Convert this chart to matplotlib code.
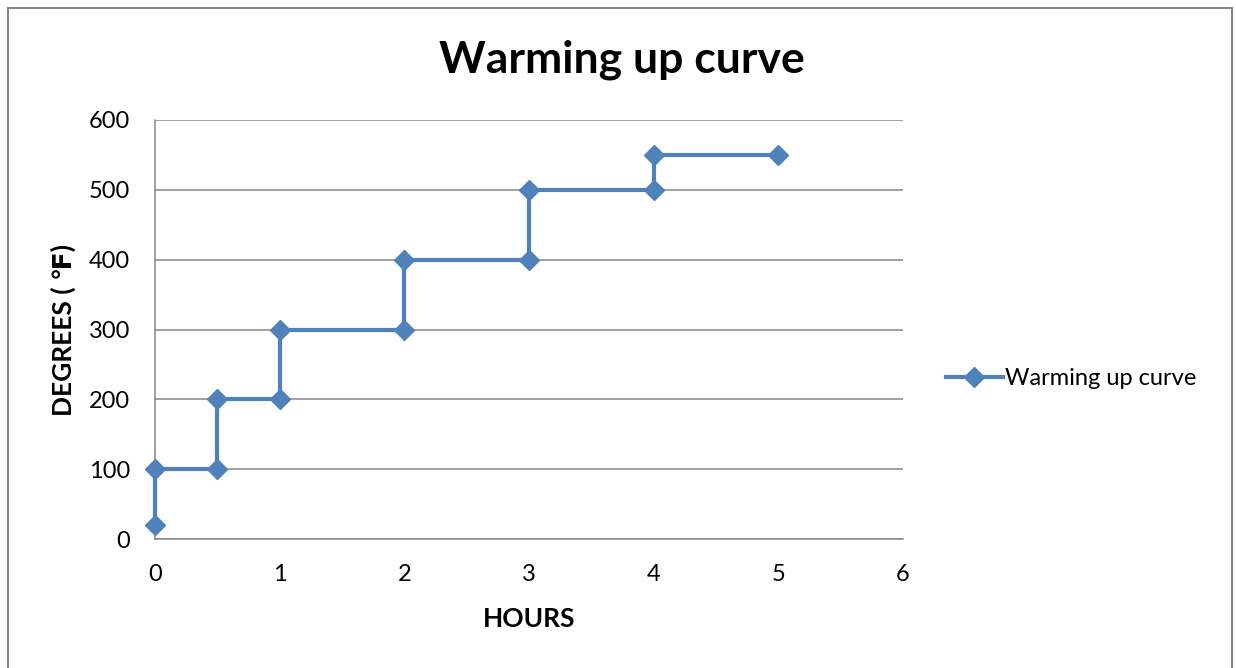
import matplotlib
matplotlib.use("Agg")
import matplotlib.pyplot as plt
from matplotlib.patches import Rectangle

plt.rcParams['font.family'] = ['Lato', 'DejaVu Sans']

# warming up schedule (step curve)
hours = [0, 0, 0.5, 0.5, 1, 1, 2, 2, 3, 3, 4, 4, 5]
degrees = [20, 100, 100, 200, 200, 300, 300, 400, 400, 500, 500, 550, 550]
x_ticks = [0, 1, 2, 3, 4, 5, 6]
y_ticks = [0, 100, 200, 300, 400, 500, 600]

blue = '#4F81BD'
grey = '#868686'

fig = plt.figure(figsize=(12.36, 6.68), dpi=100)
ax = fig.add_axes([155 / 1236, 1 - 539 / 668, (903 - 155) / 1236, (539 - 120) / 668])

ax.plot(hours, degrees, color=blue, lw=3, marker='D', ms=10.5,
        label='Warming up curve', clip_on=False, zorder=3)

ax.set_xlim(0, 6)
ax.set_ylim(0, 600)
ax.set_xticks(x_ticks)
ax.set_yticks(y_ticks)
ax.tick_params(length=0, labelsize=17)
ax.tick_params(axis='x', pad=18)
ax.tick_params(axis='y', pad=18)
ax.yaxis.grid(True, color=grey, lw=1.1)
ax.set_axisbelow(True)
for s in ['top', 'right']:
    ax.spines[s].set_visible(False)
for s in ['left', 'bottom']:
    ax.spines[s].set_color(grey)
    ax.spines[s].set_linewidth(1.1)

ax.set_xlabel('HOURS', fontsize=19, fontweight='bold', labelpad=15.5)
ax.set_ylabel('DEGREES ( \u2109)', fontsize=19, fontweight='bold', labelpad=9)
fig.text(622 / 1236, 1 - 60 / 668, 'Warming up curve', fontsize=32,
         fontweight='bold', ha='center', va='center')

ax.legend(loc='center left', bbox_to_anchor=(946 / 1236, 1 - 379 / 668),
          bbox_transform=fig.transFigure, frameon=False, fontsize=17,
          handlelength=2.4, handletextpad=0.1, borderpad=0, borderaxespad=0)

# outer chart border
fig.patches.append(Rectangle((8 / 1236, -0.05), (1232 - 8) / 1236, 1.05 - 8 / 668,
                             transform=fig.transFigure, fill=False,
                             edgecolor=grey, lw=1.5))

fig.savefig('out.png', dpi=100)
